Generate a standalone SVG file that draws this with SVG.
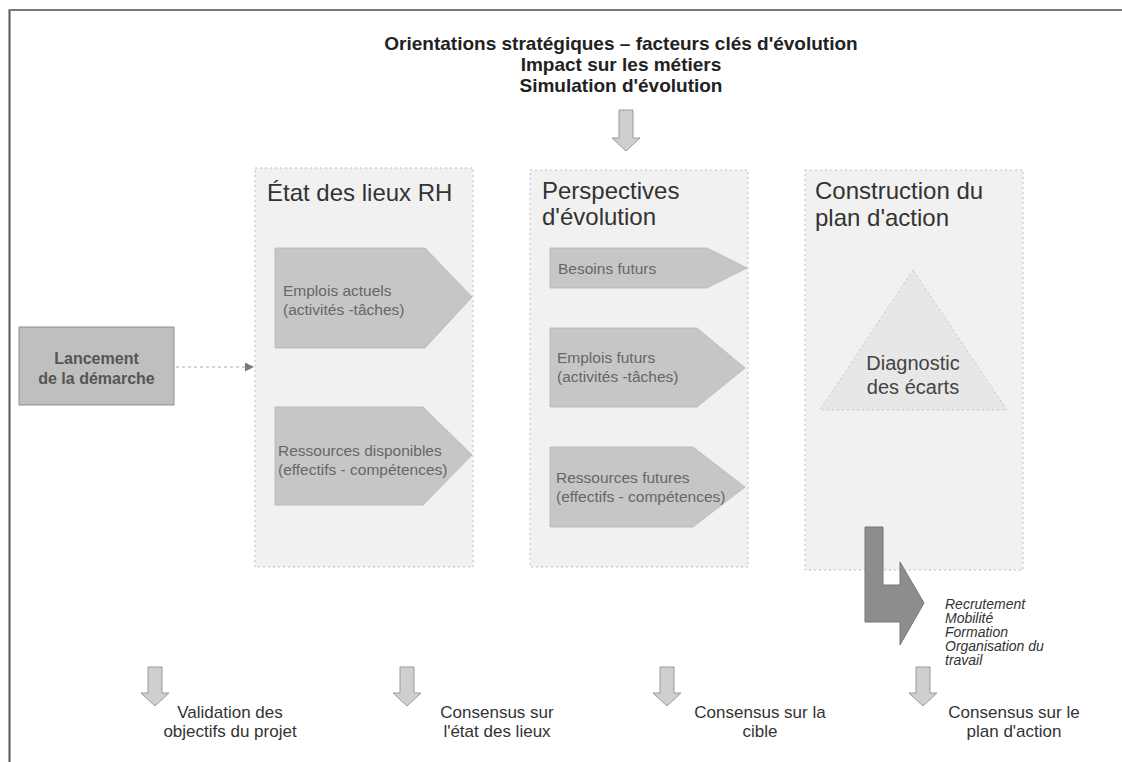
<svg xmlns="http://www.w3.org/2000/svg" width="1122" height="762" viewBox="0 0 1122 762">
<style>
  .t { font-family: "Liberation Sans", Arial, sans-serif; }
  .head { font-size: 19px; font-weight: bold; fill: #222; text-anchor: middle; }
  .ptitle { font-size: 24px; fill: #333; }
  .panel { fill: #f1f1f1; stroke: #bdbdbd; stroke-width: 1; stroke-dasharray: 2 3; }
  .shape { fill: #c6c6c6; stroke: #b5b5b5; stroke-width: 0.8; }
  .stext { font-size: 15.5px; fill: #666; }
  .btext { font-size: 17px; fill: #333; text-anchor: middle; }
  .ital { font-size: 14px; font-style: italic; fill: #333; }
  .blockarrow { fill: #cfcfcf; stroke: #9a9a9a; stroke-width: 1; }
</style>
<defs>
  <marker id="tri" viewBox="0 0 10 10" refX="10" refY="5" markerWidth="6" markerHeight="6" orient="auto">
    <path d="M0,0 L10,5 L0,10 z" fill="#7a7a7a"/>
  </marker>
</defs>
<rect x="0" y="0" width="1122" height="762" fill="#ffffff"/>
<g id="frame">
  <line x1="9.5" y1="9" x2="9.5" y2="762" stroke="#555" stroke-width="2"/>
  <line x1="9" y1="10" x2="1122" y2="10" stroke="#777" stroke-width="2"/>
</g>
<g id="header">
  <text class="t head" x="621" y="50">Orientations stratégiques – facteurs clés d'évolution</text>
  <text class="t head" x="621" y="71">Impact sur les métiers</text>
  <text class="t head" x="621" y="92">Simulation d'évolution</text>
</g>
<g id="launch">
  <rect x="19" y="327" width="155" height="78" fill="#bfbfbf" stroke="#8f8f8f" stroke-width="1"/>
  <text class="t" x="96.5" y="364" font-size="16" font-weight="bold" fill="#555" text-anchor="middle">Lancement</text>
  <text class="t" x="96.5" y="384" font-size="16" font-weight="bold" fill="#555" text-anchor="middle">de la démarche</text>
</g>
<g id="etat">
  <rect class="panel" x="255" y="168" width="218" height="399"/>
  <text class="t ptitle" x="267" y="201">État des lieux RH</text>
  <polygon class="shape" points="275,248 425,248 472,297 425,348 275,348"/>
  <text class="t stext" x="283" y="296">Emplois actuels</text>
  <text class="t stext" x="283" y="315">(activités -tâches)</text>
  <polygon class="shape" points="275,407 423,407 472,455 423,505 275,505"/>
  <text class="t stext" x="278" y="456">Ressources disponibles</text>
  <text class="t stext" x="278" y="475">(effectifs - compétences)</text>
</g>
<g id="perspectives">
  <rect class="panel" x="530" y="170" width="218" height="397"/>
  <text class="t ptitle" x="542" y="199">Perspectives</text>
  <text class="t ptitle" x="542" y="225">d'évolution</text>
  <polygon class="shape" points="550,248 707,248 747,268 707,288 550,288"/>
  <text class="t stext" x="558" y="274">Besoins futurs</text>
  <polygon class="shape" points="550,328 697,328 745,368 697,407 550,407"/>
  <text class="t stext" x="557" y="363">Emplois futurs</text>
  <text class="t stext" x="557" y="382">(activités -tâches)</text>
  <polygon class="shape" points="550,447 693,447 745,487 693,527 550,527"/>
  <text class="t stext" x="556" y="483">Ressources futures</text>
  <text class="t stext" x="556" y="502">(effectifs - compétences)</text>
</g>
<g id="construction">
  <rect class="panel" x="805" y="170" width="218" height="400"/>
  <text class="t ptitle" x="815" y="199">Construction du</text>
  <text class="t ptitle" x="815" y="226">plan d'action</text>
  <polygon points="913,270 820,410 1007,410" fill="#e7e7e7" stroke="#c4c4c4" stroke-width="1" stroke-dasharray="2 3"/>
  <text class="t" x="913" y="370" font-size="20" fill="#444" text-anchor="middle">Diagnostic</text>
  <text class="t" x="913" y="394" font-size="20" fill="#444" text-anchor="middle">des écarts</text>
</g>
<g id="actions">
  <text class="t ital" x="945" y="609">Recrutement</text>
  <text class="t ital" x="945" y="623">Mobilité</text>
  <text class="t ital" x="945" y="637">Formation</text>
  <text class="t ital" x="945" y="651">Organisation du</text>
  <text class="t ital" x="945" y="665">travail</text>
</g>
<g id="milestones">
  <text class="t btext" x="230" y="718">Validation des</text>
  <text class="t btext" x="230" y="737">objectifs du projet</text>
  <text class="t btext" x="497" y="718">Consensus sur</text>
  <text class="t btext" x="497" y="737">l'état des lieux</text>
  <text class="t btext" x="760" y="718">Consensus sur la</text>
  <text class="t btext" x="760" y="737">cible</text>
  <text class="t btext" x="1014" y="718">Consensus sur le</text>
  <text class="t btext" x="1014" y="737">plan d'action</text>
</g>
<g id="connectors">
  <line x1="176" y1="367" x2="254" y2="367" stroke="#c8c8c8" stroke-width="1.5" stroke-dasharray="3 3" marker-end="url(#tri)"/>
  <polygon class="blockarrow" points="619,110 633,110 633,138 640,138 626,151 612,138 619,138"/>
  <polygon class="blockarrow" points="148,667 162,667 162,693 169,693 155,706 141,693 148,693"/>
  <polygon class="blockarrow" points="400,667 414,667 414,693 421,693 407,706 393,693 400,693"/>
  <polygon class="blockarrow" points="660,667 674,667 674,693 681,693 667,706 653,693 660,693"/>
  <polygon class="blockarrow" points="916,667 930,667 930,693 937,693 923,706 909,693 916,693"/>
  <polygon points="865,527 883,527 883,585 900,585 900,562 924,603 900,645 900,622 865,622" fill="#8d8d8d" stroke="#777" stroke-width="1"/>
</g>
</svg>
